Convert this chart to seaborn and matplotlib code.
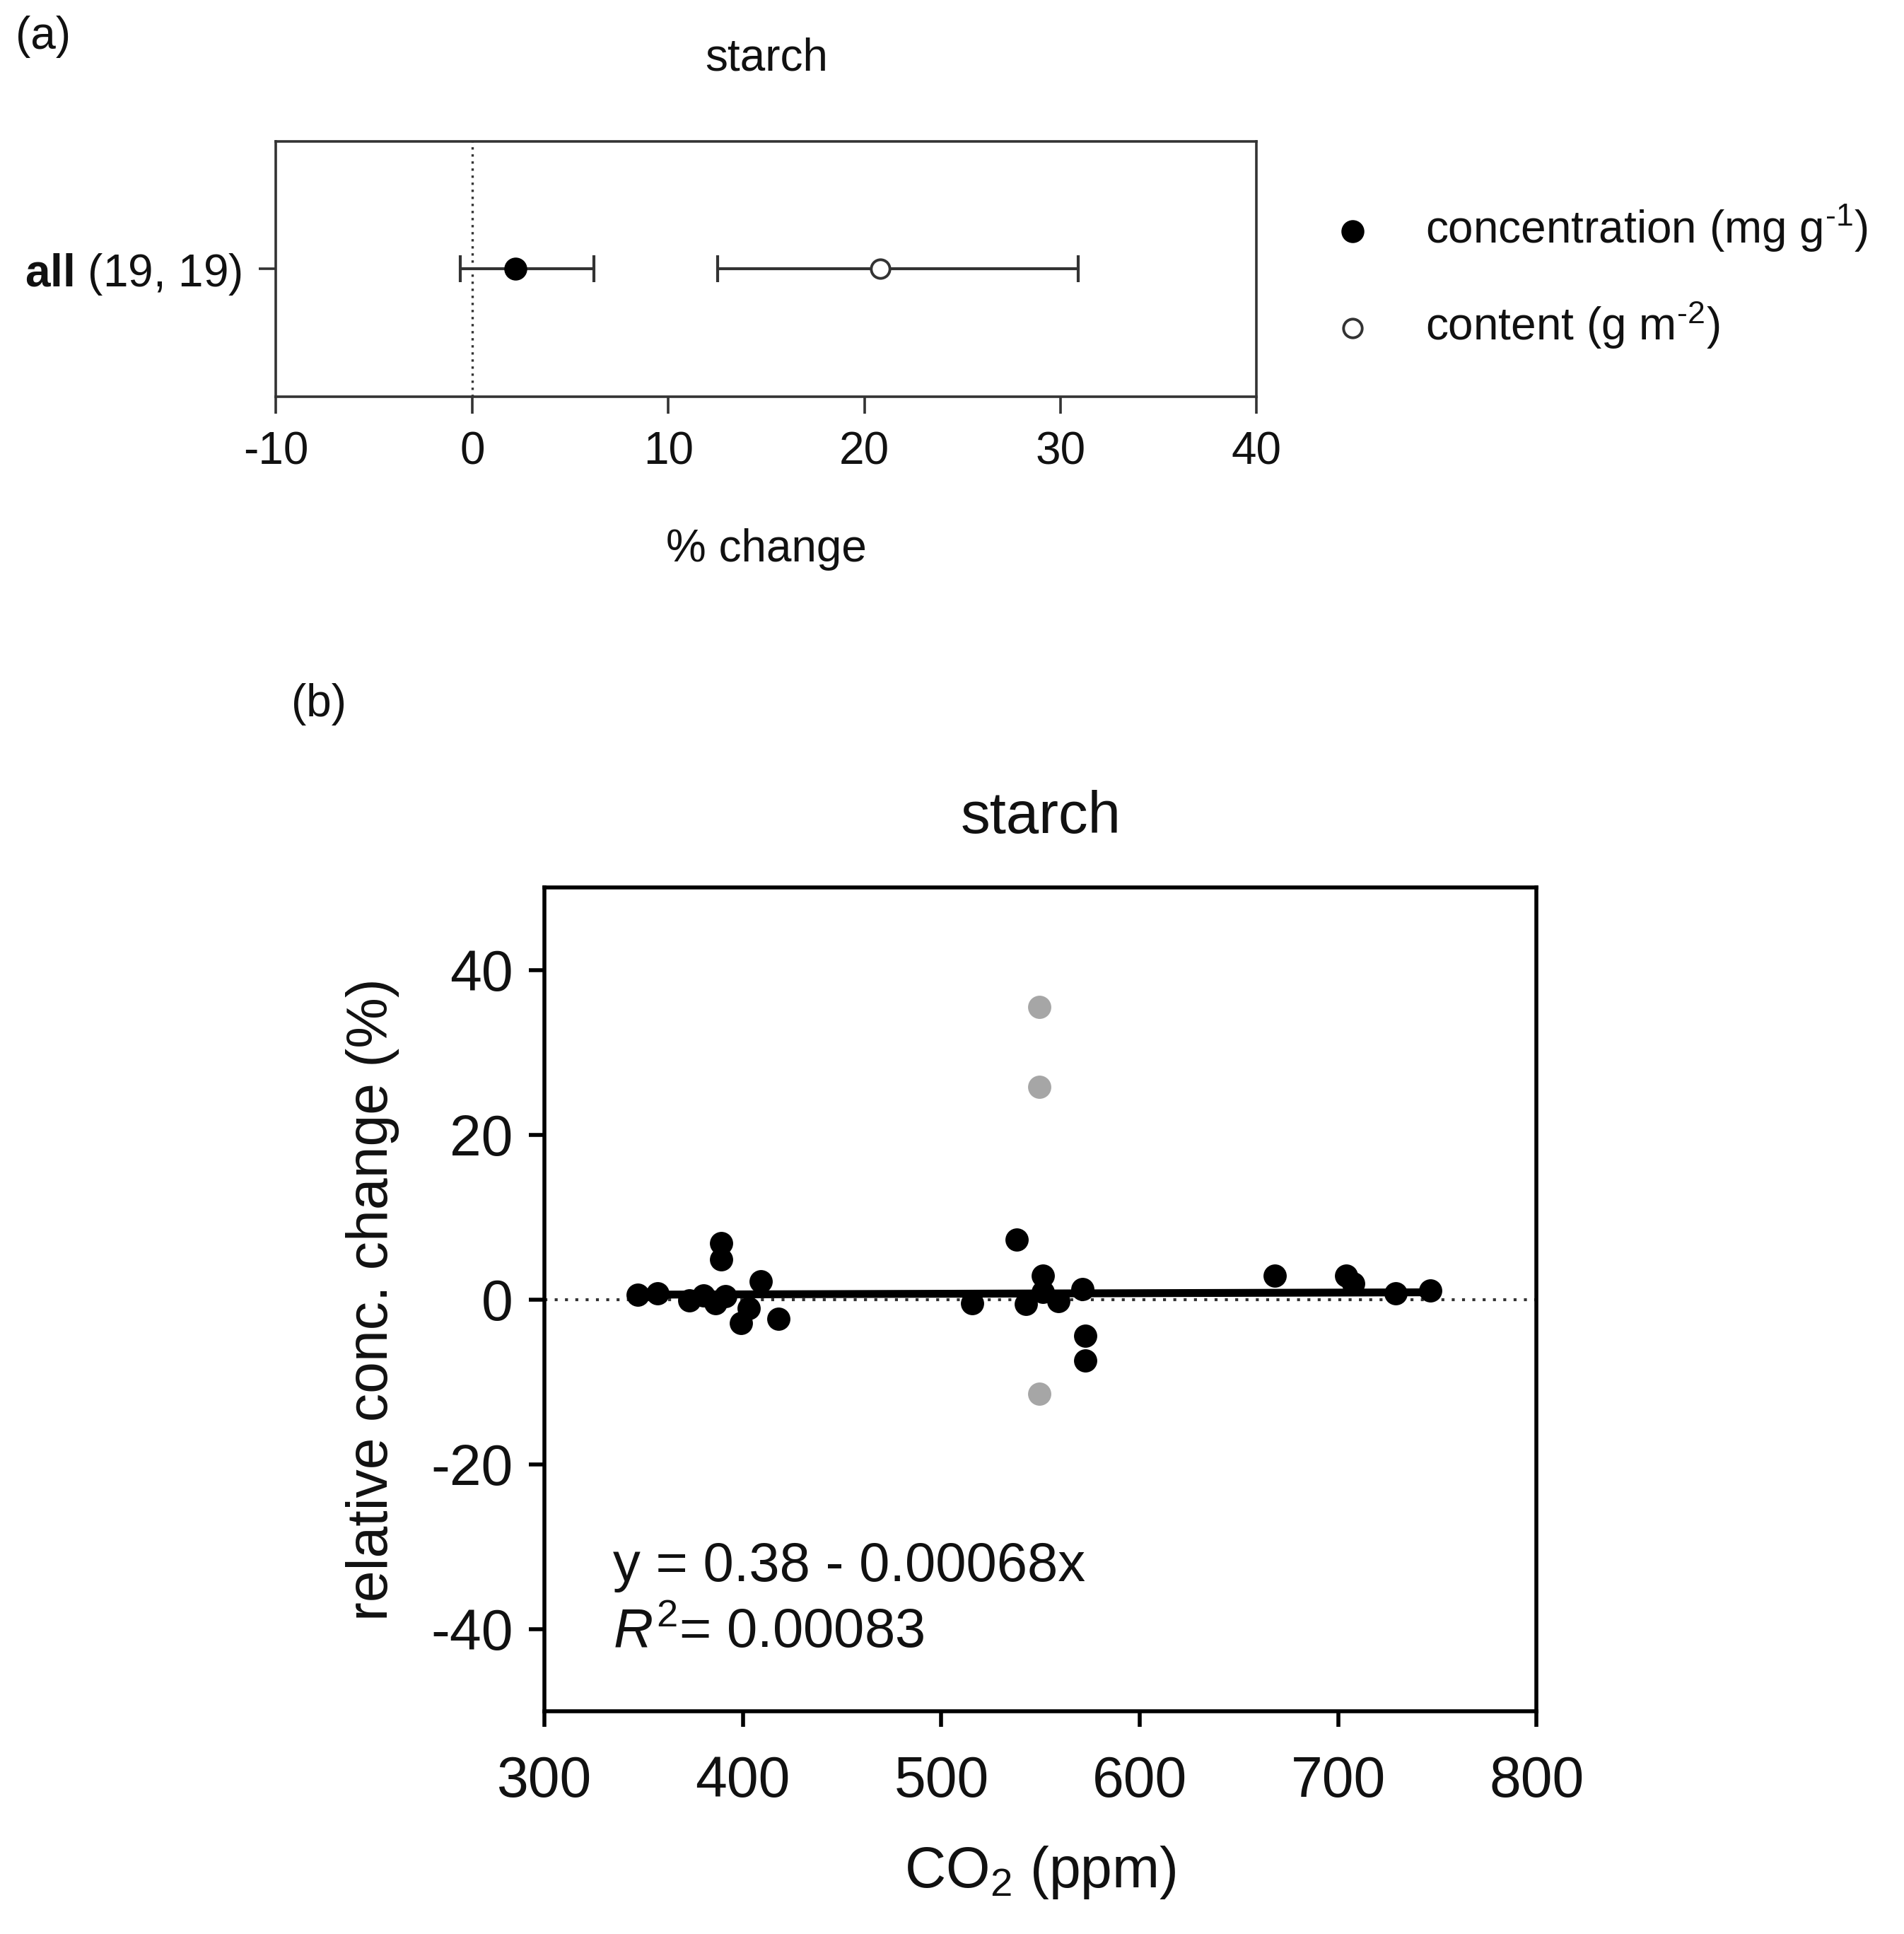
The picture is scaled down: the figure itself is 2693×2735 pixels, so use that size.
import matplotlib
matplotlib.use("Agg")
from matplotlib import pyplot as plt
import pandas as pd
import seaborn as sns

# panel (a): mean % change with confidence interval
measures = [r'concentration (mg g$^{\text{-1}}$)', r'content (g m$^{\text{-2}}$)']
mean_change = [2.2, 20.8]
ci_low = [-0.6, 12.5]
ci_high = [6.2, 30.9]
group_label = r'$\mathbf{all}$ (19, 19)'

# panel (b): relative concentration change vs CO2
co2_black = [347, 357, 373, 380, 386, 389, 389, 391, 399, 403, 409, 418,
             515.5, 538, 542.5, 551, 551, 559, 571, 572.5, 572.5,
             668, 704, 707.5, 729, 746.5]
change_black = [0.56, 0.78, -0.05, 0.5, -0.4, 6.84, 4.9, 0.4, -2.83, -1.07, 2.26, -2.3,
                -0.44, 7.3, -0.55, 2.9, 0.9, -0.15, 1.3, -4.35, -7.42,
                2.87, 2.92, 1.95, 0.75, 1.1]
co2_grey = [549.5, 549.5, 549.5]
change_grey = [35.5, 25.8, -11.4]

sns.set_theme(style='ticks')
plt.rcParams['font.family'] = ['Liberation Sans', 'DejaVu Sans']
plt.rcParams['mathtext.fontset'] = 'custom'
plt.rcParams['mathtext.rm'] = 'Liberation Sans'
plt.rcParams['mathtext.it'] = 'Liberation Sans:italic'
plt.rcParams['mathtext.bf'] = 'Liberation Sans:bold'
plt.rcParams['axes.unicode_minus'] = False
plt.rcParams['text.color'] = '#111111'
plt.rcParams['axes.labelcolor'] = '#111111'
plt.rcParams['xtick.color'] = '#111111'
plt.rcParams['ytick.color'] = '#111111'

fig = plt.figure(figsize=(13.465, 13.675), dpi=200)

# ---------- (a) ----------
ax1 = fig.add_axes([0.145, 0.795, 0.515, 0.132])
df_a = pd.DataFrame({'measure': measures, 'mean': mean_change, 'lo': ci_low, 'hi': ci_high, 'y': [0, 0]})
ax1.axvline(0, color='#333333', lw=1.2, ls=(0, (1, 2)), zorder=1)
for i, row in df_a.iterrows():
    ax1.errorbar(row['mean'], row['y'],
                 xerr=[[row['mean'] - row['lo']], [row['hi'] - row['mean']]],
                 fmt='none', ecolor='#333333', elinewidth=1.5, capsize=7, capthick=1.5, zorder=2)
sns.scatterplot(x=df_a['mean'][:1], y=df_a['y'][:1], ax=ax1, s=110, color='black',
                edgecolor='black', linewidth=1.2, label=measures[0], zorder=3)
sns.scatterplot(x=df_a['mean'][1:], y=df_a['y'][1:], ax=ax1, s=90, color='white',
                edgecolor='#333333', linewidth=1.4, label=measures[1], zorder=3)
ax1.set_xlim(-10, 40)
ax1.set_ylim(-1, 1)
ax1.set_xticks(range(-10, 41, 10))
ax1.set_yticks([0])
ax1.set_yticklabels([group_label])
ax1.tick_params(axis='both', labelsize=23, length=8.5, width=1.3, color='#333333', pad=9)
for sp in ax1.spines.values():
    sp.set_linewidth(1.3)
    sp.set_color('#333333')
ax1.set_xlabel('% change', fontsize=23, labelpad=28)
ax1.set_ylabel('')
ax1.set_title('starch', fontsize=23, pad=36)
ax1.legend(loc='center left', bbox_to_anchor=(1.075, 0.47), frameon=False, fontsize=23,
           handlelength=1.0, handletextpad=1.1, labelspacing=1.0, borderpad=0, borderaxespad=0)
fig.text(0.008, 0.981, '(a)', fontsize=23, va='center', ha='left')

# ---------- (b) ----------
ax2 = fig.add_axes([0.286, 0.115, 0.521, 0.426])
df_b = pd.DataFrame({'co2': co2_black, 'change': change_black})
df_g = pd.DataFrame({'co2': co2_grey, 'change': change_grey})
ax2.axhline(0, color='#333333', lw=1.5, ls=(0, (1, 2.5)), zorder=1)
sns.scatterplot(data=df_g, x='co2', y='change', ax=ax2, color='#a6a6a6', s=140,
                linewidth=0, zorder=2)
sns.scatterplot(data=df_b, x='co2', y='change', ax=ax2, color='black', s=140,
                linewidth=0, zorder=3)
sns.regplot(data=df_b, x='co2', y='change', ax=ax2, scatter=False, ci=None,
            color='black', line_kws={'lw': 4.0, 'zorder': 4})
ax2.set_xlim(300, 800)
ax2.set_ylim(-50, 50)
ax2.set_xticks(range(300, 801, 100))
ax2.set_yticks([-40, -20, 0, 20, 40])
ax2.tick_params(axis='x', labelsize=29, length=8, width=2.0, color='black', pad=14)
ax2.tick_params(axis='y', labelsize=29, length=8, width=2.0, color='black', pad=8)
for sp in ax2.spines.values():
    sp.set_linewidth(2.0)
    sp.set_color('black')
ax2.set_xlabel('CO$_2$ (ppm)', fontsize=29, labelpad=18)
ax2.set_ylabel('relative conc. change (%)', fontsize=29, labelpad=16)
ax2.set_title('starch', fontsize=30, pad=28)
ax2.text(0.069, 0.176, 'y = 0.38 - 0.00068x', transform=ax2.transAxes, fontsize=28,
         va='center', ha='left')
ax2.text(0.069, 0.095, '$R^2$= 0.00083', transform=ax2.transAxes, fontsize=28,
         va='center', ha='left')
fig.text(0.153, 0.636, '(b)', fontsize=23, va='center', ha='left')

fig.savefig('out.png', dpi=200)
